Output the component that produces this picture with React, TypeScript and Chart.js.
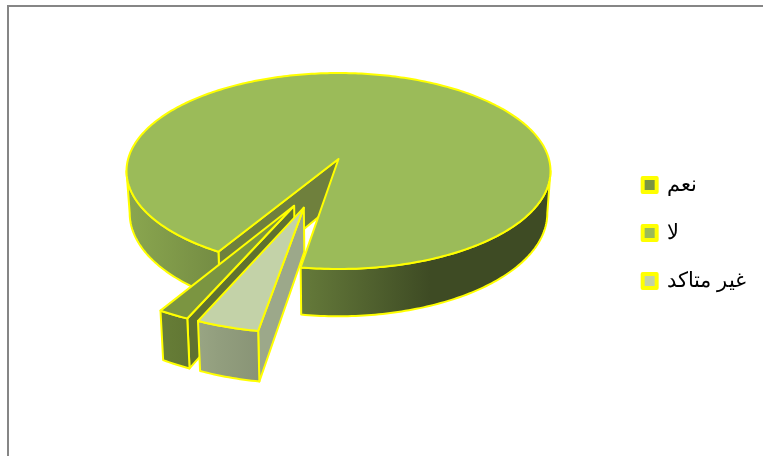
import React, { useEffect, useRef } from "react";
import { Chart, registerables } from "chart.js";

Chart.register(...registerables);

const categories = ["نعم", "لا", "غير متاكد"];
const shares = [2, 94, 4];
const topColors = ["#7b9541", "#9bbb59", "#c3d2a8"];
const cutFaceColors = ["#5f7130", "#6f803d", "#9ca88a"];
const OUTLINE = "#ffff00";

// Projection of the tilted pie: plane units are pie radii.
const ROTATION_DEG = 203.5;
const EXPLODE = 0.25;
const ORIGIN_X = 338.5;
const ORIGIN_Y = 159;
const RADIUS = 210.4;
const FORESHORTEN = 96.5;
const PERSPECTIVE = 0.1225;
const DEPTH = 41.5;
const FLOOR_SCALE = 0.985;

// Brightness of the rim across the screen, applied to a slice's top colour.
const rimShade: [number, number][] = [
  [129, 0.89],
  [219, 0.75],
  [302, 0.65],
  [430, 0.4],
  [549, 0.4],
];

const scaleColor = (hex: string, f: number) => {
  const n = parseInt(hex.slice(1), 16);
  const c = [(n >> 16) & 255, (n >> 8) & 255, n & 255].map((v) => Math.round(v * f));
  return `rgb(${c[0]},${c[1]},${c[2]})`;
};

const pie3d = {
  id: "pie3d",
  beforeDatasetDraw(chart: any) {
    const { ctx } = chart;
    const arcs = chart.getDatasetMeta(0).data;
    const mid = (el: any) => (el.startAngle + el.endAngle) / 2;
    const largest = arcs.reduce(
      (best: number, el: any, i: number) =>
        el.endAngle - el.startAngle > arcs[best].endAngle - arcs[best].startAngle ? i : best,
      0
    );
    const baseU = EXPLODE * Math.cos(mid(arcs[largest]));
    const baseV = EXPLODE * Math.sin(mid(arcs[largest]));

    const project = (u: number, v: number, floor: boolean): [number, number] => {
      const uu = u - baseU;
      const vv = v - baseV;
      const p = 1 / (1 - PERSPECTIVE * vv);
      return [
        ORIGIN_X + RADIUS * uu * p * (floor ? FLOOR_SCALE : 1),
        ORIGIN_Y + FORESHORTEN * vv * p + (floor ? DEPTH * p : 0),
      ];
    };

    const trace = (pts: [number, number][]) => {
      ctx.beginPath();
      pts.forEach(([x, y], i) => (i ? ctx.lineTo(x, y) : ctx.moveTo(x, y)));
      ctx.closePath();
    };
    const paint = (pts: [number, number][], fill: any) => {
      trace(pts);
      ctx.fillStyle = fill;
      ctx.fill();
      ctx.stroke();
    };

    const drawSlice = (i: number) => {
      const el = arcs[i];
      const start = el.startAngle;
      const end = el.endAngle;
      const cu = EXPLODE * Math.cos(mid(el));
      const cv = EXPLODE * Math.sin(mid(el));
      const rim = (a: number, floor: boolean) =>
        project(cu + Math.cos(a), cv + Math.sin(a), floor);
      const sweep = (from: number, to: number, floor: boolean) => {
        const steps = Math.max(2, Math.ceil((to - from) * 60));
        const pts: [number, number][] = [];
        for (let s = 0; s <= steps; s++) pts.push(rim(from + ((to - from) * s) / steps, floor));
        return pts;
      };

      // Cut face on the leading edge.
      paint(
        [project(cu, cv, false), rim(start, false), rim(start, true), project(cu, cv, true)],
        cutFaceColors[i]
      );

      // Rim, only where it faces the viewer.
      const front = Math.asin(PERSPECTIVE);
      const gradient = ctx.createLinearGradient(rimShade[0][0], 0, rimShade[4][0], 0);
      rimShade.forEach(([x, f]) =>
        gradient.addColorStop((x - rimShade[0][0]) / (rimShade[4][0] - rimShade[0][0]), scaleColor(topColors[i], f))
      );
      for (let k = 0; k < 3; k++) {
        const from = Math.max(start, front + 2 * Math.PI * k);
        const to = Math.min(end, Math.PI - front + 2 * Math.PI * k);
        if (to > from) {
          paint([...sweep(from, to, false), ...sweep(from, to, true).reverse()], gradient);
        }
      }

      // Top surface.
      paint([project(cu, cv, false), ...sweep(start, end, false)], topColors[i]);
    };

    ctx.save();
    ctx.strokeStyle = OUTLINE;
    ctx.lineWidth = 2;
    ctx.lineJoin = "round";
    drawSlice(largest);
    arcs.forEach((_: any, i: number) => {
      if (i !== largest) drawSlice(i);
    });
    ctx.restore();
    return false;
  },
};

export default function App() {
  const ref = useRef<HTMLCanvasElement>(null);

  useEffect(() => {
    const chart = new Chart(ref.current!, {
      type: "pie",
      data: {
        labels: categories,
        datasets: [
          {
            data: shares,
            backgroundColor: topColors,
            borderColor: OUTLINE,
            borderWidth: 4,
          },
        ],
      },
      options: {
        responsive: false,
        animation: false,
        rotation: ROTATION_DEG,
        layout: { padding: { right: 7, top: 10 } },
        plugins: {
          tooltip: { enabled: false },
          legend: {
            position: "right",
            labels: {
              boxWidth: 14,
              boxHeight: 14,
              padding: 27,
              color: "#000000",
              font: { family: "'Liberation Sans', Arial, sans-serif", size: 21 },
              generateLabels: (c: any) =>
                (Chart as any).overrides.pie.plugins.legend.labels
                  .generateLabels(c)
                  .map((l: any) => ({ ...l, lineJoin: "round" })),
            },
          },
        },
      },
      plugins: [pie3d],
    } as any);
    return () => chart.destroy();
  }, []);

  return (
    <div style={{ position: "fixed", left: 0, top: 0, width: 763, height: 456, background: "#fff", overflow: "hidden" }}>
      <div
        style={{
          position: "absolute",
          left: 7,
          top: 5,
          right: 0,
          bottom: 0,
          borderLeft: "2px solid #868686",
          borderTop: "2px solid #868686",
        }}
      />
      <canvas ref={ref} width={763} height={456} style={{ position: "absolute", left: 0, top: 0 }} />
    </div>
  );
}
